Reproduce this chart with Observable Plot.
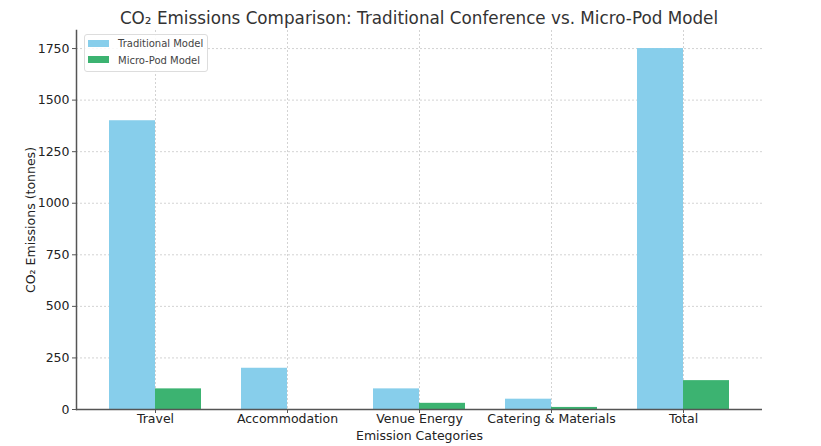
<!DOCTYPE html>
<html><head><meta charset="utf-8">
<script src="https://cdn.jsdelivr.net/npm/d3@7"></script>
<script src="https://cdn.jsdelivr.net/npm/@observablehq/plot@0.6"></script>
<style>
body{margin:0;background:#fff;font-family:"DejaVu Sans",sans-serif;}
#wrap{position:relative;width:821px;height:446px;}
#title{position:absolute;left:76px;top:7px;width:686px;text-align:center;font-size:16.8px;color:#333;line-height:22px;}
#legend{position:absolute;left:84px;top:34px;border:1px solid #ddd;border-radius:3px;background:rgba(255,255,255,0.85);padding:1px 4px 2px 3px;font-size:10px;color:#444;line-height:16.5px;}
#legend .sw{display:inline-block;width:21px;height:7px;margin-right:9px;vertical-align:middle;position:relative;top:-1px;}
#chart{position:absolute;left:0;top:26px;}
</style></head>
<body>
<div id="wrap">
<div id="title">CO₂ Emissions Comparison: Traditional Conference vs. Micro-Pod Model</div>
<div id="chart"></div>
<div id="legend"></div>
</div>
<script>
const categories = ["Travel", "Accommodation", "Venue Energy", "Catering & Materials", "Total"];
const traditional = [1400, 200, 100, 50, 1750];
const microPod = [100, 0, 30, 10, 140];
const seriesNames = ["Traditional Model", "Micro-Pod Model"];
const seriesColors = ["#87CEEB", "#3CB371"];
const yTicks = [0, 250, 500, 750, 1000, 1250, 1500, 1750];

const tradData = categories.map((c, i) => ({category: c, value: traditional[i]}));
const microData = categories.map((c, i) => ({category: c, value: microPod[i]}));

const plot = Plot.plot({
  width: 821,
  height: 420,
  marginLeft: 76,
  marginRight: 59,
  marginTop: 4,
  marginBottom: 37,
  style: {fontFamily: "DejaVu Sans, sans-serif", fontSize: "12px", color: "#333", background: "transparent"},
  x: {domain: categories, paddingInner: 0.6515, paddingOuter: 0.424, label: null},
  y: {domain: [0, 1837.5], label: null},
  marks: [
    Plot.gridY(yTicks, {stroke: "#b0b0b0", strokeOpacity: 0.7, strokeDasharray: "2,2", strokeWidth: 0.8}),
    Plot.gridX(categories, {stroke: "#b0b0b0", strokeOpacity: 0.7, strokeDasharray: "2,2", strokeWidth: 0.8}),
    Plot.barY(tradData, {x: "category", y: "value", fill: seriesColors[0], dx: -23, insetLeft: 0, insetRight: 0}),
    Plot.barY(microData, {x: "category", y: "value", fill: seriesColors[1], dx: 23, insetLeft: 0, insetRight: 0}),
    Plot.frame({anchor: "left", stroke: "#555", strokeWidth: 1.5}),
    Plot.ruleY([0], {stroke: "#555", strokeWidth: 1.5}),
    Plot.axisY(yTicks, {tickSize: 4, tickPadding: 3, fontSize: 12.5, tickFormat: d3.format("d"), label: "CO₂ Emissions (tonnes)", labelAnchor: "center", labelArrow: "none", labelOffset: 50, fill: "#222", stroke: "#555"}),
    Plot.axisX({tickSize: 4, tickPadding: 1, fontSize: 12.5, label: "Emission Categories", labelAnchor: "center", labelArrow: "none", labelOffset: 30, fill: "#222", stroke: "#555"})
  ]
});
document.getElementById("chart").appendChild(plot);

const lg = document.getElementById("legend");
seriesNames.forEach((n, i) => {
  const row = document.createElement("div");
  row.innerHTML = `<span class="sw" style="background:${seriesColors[i]}"></span>${n}`;
  lg.appendChild(row);
});
</script>
</body></html>
